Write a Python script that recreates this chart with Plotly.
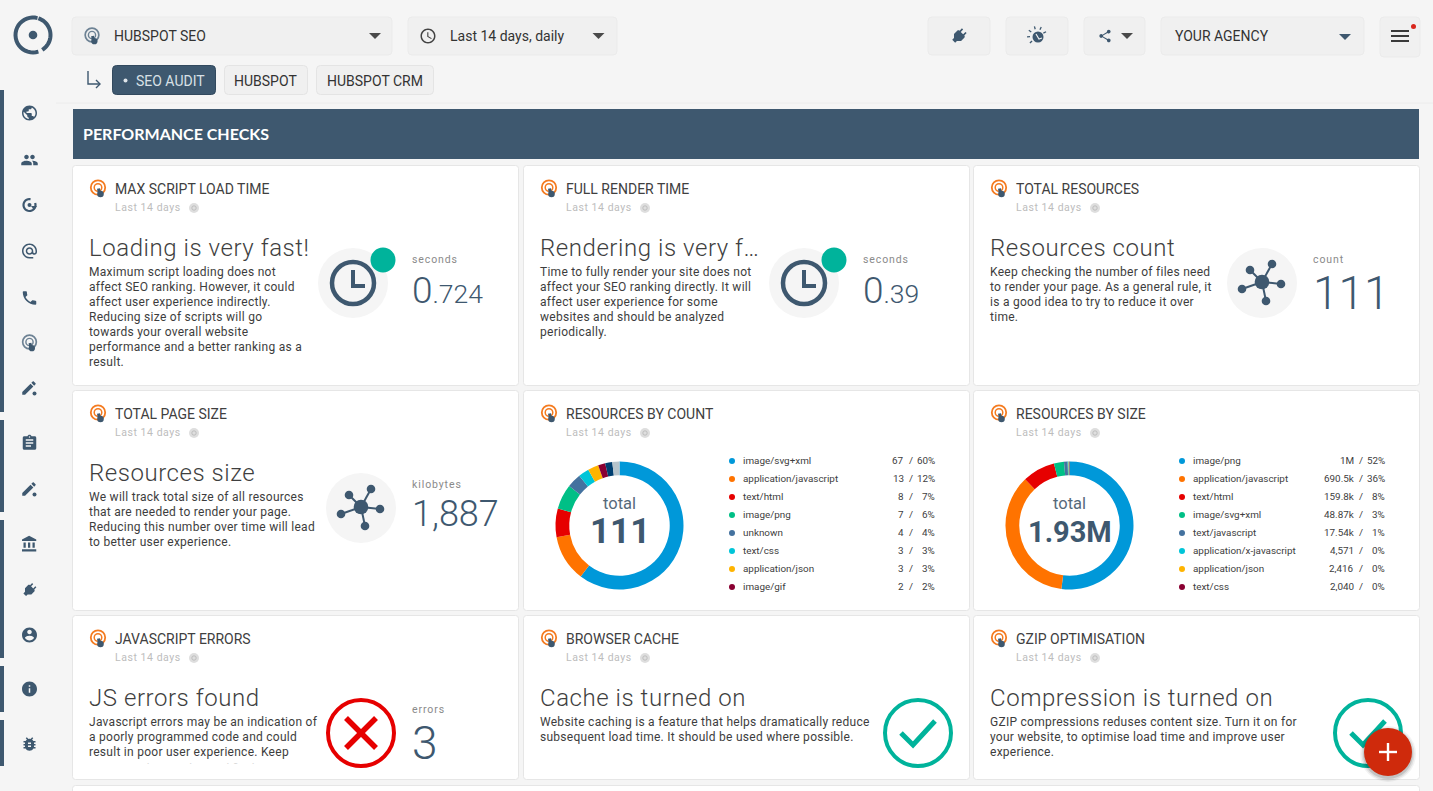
import re
import math
import plotly.graph_objects as go

# donut data
count_labels = ["image/svg+xml", "application/javascript", "text/html", "image/png",
                "unknown", "text/css", "application/json", "image/gif", "other 1", "other 2"]
count_values = [67, 13, 8, 7, 4, 3, 3, 2, 2, 2]
count_shown = ["67", "13", "8", "7", "4", "3", "3", "2"]
count_pct = ["60%", "12%", "7%", "6%", "4%", "3%", "3%", "2%"]

size_labels = ["image/png", "application/javascript", "text/html", "image/svg+xml",
               "text/javascript", "application/x-javascript", "application/json", "text/css"]
size_values = [1004000, 690500, 159800, 48870, 17540, 4571, 2416, 2040]
size_shown = ["1M", "690.5k", "159.8k", "48.87k", "17.54k", "4,571", "2,416", "2,040"]
size_pct = ["52%", "36%", "8%", "3%", "1%", "0%", "0%", "0%"]

slice_colors = ["#0098d9", "#ff7300", "#e60000", "#00bf86", "#44729f",
                "#00c5d8", "#ffb400", "#8a0032", "#003f70", "#b6c4cc"]

# card texts
card_titles = ["MAX SCRIPT LOAD TIME", "FULL RENDER TIME", "TOTAL RESOURCES",
               "TOTAL PAGE SIZE", "RESOURCES BY COUNT", "RESOURCES BY SIZE",
               "JAVASCRIPT ERRORS", "BROWSER CACHE", "GZIP OPTIMISATION"]
card_heads = ["Loading is very fast!", "Rendering is very f…", "Resources count",
              "Resources size", None, None,
              "JS errors found", "Cache is turned on", "Compression is turned on"]
card_body = [
    ["Maximum script loading does not", "affect SEO ranking. However, it could",
     "affect user experience indirectly.", "Reducing size of scripts will go",
     "towards your overall website", "performance and a better ranking as a", "result."],
    ["Time to fully render your site does not", "affect your SEO ranking directly. It will",
     "affect user experience for some", "websites and should be analyzed", "periodically."],
    ["Keep checking the number of files need", "to render your page. As a general rule, it",
     "is a good idea to try to reduce it over", "time."],
    ["We will track total size of all resources", "that are needed to render your page.",
     "Reducing this number over time will lead", "to better user experience."],
    [], [],
    ["Javascript errors may be an indication of", "a poorly programmed code and could",
     "result in poor user experience. Keep"],
    ["Website caching is a feature that helps dramatically reduce", "subsequent load time. It should be used where possible."],
    ["GZIP compressions reduses content size. Turn it on for", "your website, to optimise load time and improve user",
     "experience."],
]
# the card cuts this line off, only the tops of the letters show
cut_line = "an eye on this number and fix them."

NAVY = "#3e586f"
TEAL = "#00b39b"
RED = "#e60000"
INK = "#3f3f3f"

# material icon outlines, 24x24 box
ICONS = {
    "public": "M12 2C6.48 2 2 6.48 2 12s4.48 10 10 10 10-4.48 10-10S17.52 2 12 2zm-1 17.93c-3.95-.49-7-3.85-7-7.93 0-.62.08-1.21.21-1.79L9 15v1c0 1.1.9 2 2 2v1.93zm6.9-2.54c-.26-.81-1-1.39-1.9-1.39h-1v-3c0-.55-.45-1-1-1H8v-2h2c.55 0 1-.45 1-1V7h2c1.1 0 2-.9 2-2v-.41c2.93 1.19 5 4.06 5 7.41 0 2.08-.8 3.97-2.1 5.39z",
    "people": "M16 11c1.66 0 2.99-1.34 2.99-3S17.66 5 16 5c-1.66 0-3 1.34-3 3s1.34 3 3 3zm-8 0c1.66 0 2.99-1.34 2.99-3S9.66 5 8 5C6.34 5 5 6.34 5 8s1.34 3 3 3zm0 2c-2.33 0-7 1.17-7 3.5V19h14v-2.5c0-2.33-4.67-3.5-7-3.5zm8 0c-.29 0-.62.02-.97.05 1.16.84 1.97 1.97 1.97 3.45V19h6v-2.5c0-2.33-4.67-3.5-7-3.5z",
    "phone": "M6.62 10.79c1.44 2.83 3.76 5.14 6.59 6.59l2.2-2.2c.27-.27.67-.36 1.02-.24 1.12.37 2.33.57 3.57.57.55 0 1 .45 1 1V20c0 .55-.45 1-1 1-9.39 0-17-7.61-17-17 0-.55.45-1 1-1h3.5c.55 0 1 .45 1 1 0 1.25.2 2.45.57 3.57.11.35.03.74-.25 1.02l-2.2 2.2z",
    "account": "M12 2C6.48 2 2 6.48 2 12s4.48 10 10 10 10-4.48 10-10S17.52 2 12 2zm0 3c1.66 0 3 1.34 3 3s-1.34 3-3 3-3-1.34-3-3 1.34-3 3-3zm0 14.2c-2.5 0-4.71-1.28-6-3.22.03-1.99 4-3.08 6-3.08 1.99 0 5.97 1.09 6 3.08-1.29 1.94-3.5 3.22-6 3.22z",
    "info": "M12 2C6.48 2 2 6.48 2 12s4.48 10 10 10 10-4.48 10-10S17.52 2 12 2zm1 15h-2v-6h2v6zm0-8h-2V7h2v2z",
    "bug": "M20 8h-2.81c-.45-.78-1.07-1.45-1.82-1.96L17 4.41 15.59 3l-2.17 2.17C12.96 5.06 12.49 5 12 5c-.49 0-.96.06-1.41.17L8.41 3 7 4.41l1.62 1.63C7.88 6.55 7.26 7.22 6.81 8H4v2h2.09c-.05.33-.09.66-.09 1v1H4v2h2v1c0 .34.04.67.09 1H4v2h2.81c1.04 1.79 2.97 3 5.19 3s4.15-1.21 5.19-3H20v-2h-2.09c.05-.33.09-.66.09-1v-1h2v-2h-2v-1c0-.34-.04-.67-.09-1H20V8zm-6 8h-4v-2h4v2zm0-4h-4v-2h4v2z",
    "assignment": "M19 3h-4.18C14.4 1.84 13.3 1 12 1c-1.3 0-2.4.84-2.82 2H5c-1.1 0-2 .9-2 2v14c0 1.1.9 2 2 2h14c1.1 0 2-.9 2-2V5c0-1.1-.9-2-2-2zm-7 0c.55 0 1 .45 1 1s-.45 1-1 1-1-.45-1-1 .45-1 1-1zm2 14H7v-2h7v2zm3-4H7v-2h10v2zm0-4H7V7h10v2z",
    "bank": "M4 10v7h3v-7H4zm6 0v7h3v-7h-3zM2 22h19v-3H2v3zm14-12v7h3v-7h-3zm-4.5-9L2 6v2h19V6l-9.5-5z",
    "at": "M12 2C6.48 2 2 6.48 2 12s4.48 10 10 10h5v-2h-5c-4.34 0-8-3.66-8-8s3.66-8 8-8 8 3.66 8 8v1.43c0 .79-.71 1.57-1.5 1.57s-1.5-.78-1.5-1.57V12c0-2.76-2.24-5-5-5s-5 2.24-5 5 2.24 5 5 5c1.38 0 2.64-.56 3.54-1.47.65.89 1.77 1.47 2.96 1.47 1.97 0 3.5-1.6 3.5-3.57V12c0-5.52-4.48-10-10-10zm0 13c-1.66 0-3-1.34-3-3s1.34-3 3-3 3 1.34 3 3-1.34 3-3 3z",
    "pen": "M3 17.25V21h3.75L17.81 9.94l-3.75-3.75L3 17.25zM20.71 7.04c.39-.39.39-1.02 0-1.41l-2.34-2.34c-.39-.39-1.02-.39-1.41 0l-1.83 1.83 3.75 3.75 1.83-1.83z",
    "clock": "M11.99 2C6.47 2 2 6.48 2 12s4.47 10 9.99 10C17.52 22 22 17.52 22 12S17.52 2 11.99 2zM12 20c-4.42 0-8-3.58-8-8s3.58-8 8-8 8 3.58 8 8-3.58 8-8 8zm.5-13H11v6l5.25 3.15.75-1.23-4.5-2.67z",
    "share": "M18 16.08c-.76 0-1.44.3-1.96.77L8.91 12.7c.05-.23.09-.46.09-.7s-.04-.47-.09-.7l7.05-4.11c.54.5 1.25.81 2.04.81 1.66 0 3-1.34 3-3s-1.34-3-3-3-3 1.34-3 3c0 .24.04.47.09.7L8.04 9.81C7.5 9.31 6.79 9 6 9c-1.66 0-3 1.34-3 3s1.34 3 3 3c.79 0 1.5-.31 2.04-.81l7.12 4.16c-.05.21-.08.43-.08.65 0 1.61 1.31 2.92 2.92 2.92 1.61 0 2.92-1.31 2.92-2.92s-1.31-2.92-2.92-2.92z",
    "plug": "M16,7V3H14V7H10V3H8V7H8C7,7 6,8 6,9V14.5L9.5,18V21H14.5V18L18,14.5V9C18,8 17,7 16,7Z",
}

shapes = []
notes = []


def rect(x0, y0, x1, y1, fill, line="rgba(0,0,0,0)", r=0, layer="below"):
    d = (f"M{x0+r},{y0} L{x1-r},{y0} Q{x1},{y0} {x1},{y0+r} L{x1},{y1-r} Q{x1},{y1} {x1-r},{y1} "
         f"L{x0+r},{y1} Q{x0},{y1} {x0},{y1-r} L{x0},{y0+r} Q{x0},{y0} {x0+r},{y0} Z")
    shapes.append(dict(type="path", path=d, fillcolor=fill, line=dict(color=line, width=1),
                       xref="x", yref="y", layer=layer))


def circle(cx, cy, r, fill="rgba(0,0,0,0)", line="rgba(0,0,0,0)", width=0, layer="below"):
    shapes.append(dict(type="circle", x0=cx-r, x1=cx+r, y0=cy-r, y1=cy+r, fillcolor=fill,
                       line=dict(color=line, width=width), xref="x", yref="y", layer=layer))


def stroke(points, color, width, layer="below"):
    d = "M" + " L".join(f"{x},{y}" for x, y in points)
    shapes.append(dict(type="path", path=d, line=dict(color=color, width=width),
                       xref="x", yref="y", layer=layer))


def arc(cx, cy, r, a0, a1, color, width):
    # angles in degrees, clockwise from 3 o'clock
    n = 24
    pts = []
    for i in range(n + 1):
        a = math.radians(a0 + (a1 - a0) * i / n)
        pts.append((cx + r * math.cos(a), cy + r * math.sin(a)))
    stroke(pts, color, width)


def icon(name, cx, cy, size, color=NAVY, rotate=0):
    # turn a 24x24 svg outline into absolute commands plotly can read
    tokens = re.findall(r"[a-zA-Z]|-?\d*\.?\d+", ICONS[name])
    k = size / 24
    ca, sa = math.cos(math.radians(rotate)), math.sin(math.radians(rotate))

    def pt(x, y):
        x, y = x - 12, y - 12
        return f"{cx + k*(x*ca - y*sa):.2f},{cy + k*(x*sa + y*ca):.2f}"

    out = []
    i = 0
    x = y = sx = sy = 0.0
    cmd = None
    while i < len(tokens):
        if tokens[i].isalpha():
            cmd = tokens[i]
            i += 1
            if cmd in "zZ":
                out.append("Z")
                x, y = sx, sy
                continue
        rel = cmd.islower()
        c = cmd.upper()
        nargs = {"M": 2, "L": 2, "H": 1, "V": 1, "C": 6, "S": 4}[c]
        v = [float(t) for t in tokens[i:i+nargs]]
        i += nargs
        if c == "H":
            x = x + v[0] if rel else v[0]
            out.append("L" + pt(x, y))
        elif c == "V":
            y = y + v[0] if rel else v[0]
            out.append("L" + pt(x, y))
        else:
            ox, oy = (x, y) if rel else (0, 0)
            abs_pts = [(v[j] + ox, v[j+1] + oy) for j in range(0, nargs, 2)]
            out.append(c + " ".join(pt(*p) for p in abs_pts))
            x, y = abs_pts[-1]
            if c == "M":
                sx, sy = x, y
                cmd = "l" if rel else "L"
    shapes.append(dict(type="path", path=" ".join(out), fillcolor=color,
                       line=dict(color="rgba(0,0,0,0)", width=0), xref="x", yref="y", layer="below"))


def text(x, y, s, size, color=INK, anchor="left", family="Roboto", weight=400, spacing=0):
    if spacing:
        s = f'<span style="letter-spacing:{spacing}px">{s}</span>'
    notes.append(dict(x=x, y=y, text=s, xref="x", yref="y", showarrow=False, xanchor=anchor,
                      yanchor="middle", align=anchor, borderpad=0, borderwidth=0,
                      font=dict(family=family, size=size, color=color, weight=weight)))


def caret(cx, cy, color="#4a4a4a", w=6, h=6):
    d = f"M{cx-w},{cy-h/2} L{cx+w},{cy-h/2} L{cx},{cy+h/2} Z"
    shapes.append(dict(type="path", path=d, fillcolor=color, line=dict(color=color, width=0),
                       xref="x", yref="y", layer="below"))


def touch_icon(cx, cy, scale=1.0, rings="#f47b20", finger=NAVY):
    circle(cx, cy, 7.2 * scale, line=rings, width=1.8 * scale)
    circle(cx, cy, 3.8 * scale, line=rings, width=1.5 * scale)
    stroke([(cx + 0.5 * scale, cy + 1 * scale), (cx + 1.5 * scale, cy + 6 * scale)], finger, 3 * scale)
    circle(cx + 2.5 * scale, cy + 6.5 * scale, 3.3 * scale, fill=finger)


def hub(cx, cy):
    spokes = [(-12, -12), (10, -18), (19, 2), (4, 19), (-20, 7)]
    for dx, dy in spokes:
        stroke([(cx, cy), (cx + dx, cy + dy)], NAVY, 2)
        circle(cx + dx, cy + dy, 4.3, fill=NAVY)
    circle(cx, cy, 7.3, fill=NAVY)


def big_clock(cx, cy):
    circle(cx, cy, 35, fill="#f5f5f5")
    circle(cx, cy, 21, line=NAVY, width=4.5)
    stroke([(cx, cy - 13), (cx, cy + 3), (cx + 12, cy + 3)], NAVY, 4)
    circle(cx + 30, cy - 23, 12.5, fill=TEAL)


# page chrome
rect(0, 0, 1433, 791, "#f5f5f5")
stroke([(56, 103), (1433, 103)], "#ececec", 1)
for y0, y1 in [(90, 412), (420, 512), (520, 658), (666, 712), (720, 766)]:
    rect(0, y0, 4, y1, NAVY)

# logo
arc(33, 35, 17.5, -72, 58, NAVY, 4)
arc(33, 35, 17.5, 72, 285, NAVY, 4)
circle(33, 35, 4.3, fill=NAVY)

# toolbar
BOX = "#f0f0f0"
EDGE = "#ebebeb"
for x0, x1 in [(72, 392), (408, 617), (928, 990), (1006, 1068), (1084, 1145), (1161, 1364), (1380, 1420)]:
    rect(x0, 17, x1, 55 if x0 != 1380 else 57, BOX, EDGE, 4)
touch_icon(92, 35, 0.95, rings="#6d8294")
text(114, 36, "HUBSPOT SEO", 14, "#333333")
caret(375, 36)
icon("clock", 428, 36, 18, "#444444")
text(449.5, 36, "Last 14 days, daily", 14, "#333333")
caret(598.5, 36)
icon("plug", 959, 36, 20, NAVY, rotate=45)
circle(1038, 37, 5.5, fill=NAVY)
stroke([(1036, 34), (1039, 39), (1042, 38)], "#f0f0f0", 1.2)
for a in range(135, 340, 40):
    r = math.radians(a)
    stroke([(1037 + 7 * math.cos(r), 36 + 7 * math.sin(r)), (1037 + 10 * math.cos(r), 36 + 10 * math.sin(r))], NAVY, 1.3)
icon("share", 1105, 36, 15, NAVY)
caret(1127, 36)
text(1175, 36, "YOUR AGENCY", 14, "#333333")
caret(1345, 37, NAVY)
for y in [31, 36, 41]:
    stroke([(1391, y), (1409, y)], "#3a3a3a", 2)
circle(1413.5, 26.5, 2.5, fill="#d8261c")

# tabs
stroke([(88, 71), (88, 84), (100, 84)], NAVY, 1.4)
stroke([(96, 80), (100, 84), (96, 88)], NAVY, 1.4)
rect(112.5, 65.5, 215.5, 94.5, NAVY, "#32495e", 4)
circle(125.5, 80.5, 2, fill="#dfe5ea")
text(136, 80.5, "SEO AUDIT", 14, "#d8e0e6")
rect(224.5, 65.5, 307.5, 94.5, BOX, "#e4e4e4", 4)
text(265.5, 80.5, "HUBSPOT", 14, "#333333", "center")
rect(316.5, 65.5, 433.5, 94.5, BOX, "#e4e4e4", 4)
text(375, 80.5, "HUBSPOT CRM", 14, "#333333", "center")

# side menu
side = [("public", 113), ("people", 160), ("refresh_like", 205), ("at", 251), ("phone", 298),
        ("touch", 343), ("pen", 389), ("assignment", 443), ("pen", 490), ("bank", 544),
        ("plug", 590), ("account", 635), ("info", 689), ("bug", 744)]
for name, y in side:
    if name == "touch":
        touch_icon(29.5, y - 1, 0.95, rings="#6d8294")
    elif name == "refresh_like":
        arc(29.5, y, 6, -20, 280, NAVY, 2.2)
        circle(29.5, y, 2, fill=NAVY)
        caret(34, y + 3, NAVY, 3, 4)
    elif name == "plug":
        icon(name, 29.5, y, 18, NAVY, rotate=45)
    elif name == "pen":
        icon(name, 29, y - 1, 18, NAVY)
        circle(34.5, y + 4.5, 2, fill=NAVY)
    else:
        icon(name, 29.5, y, 18, NAVY)

# section header
rect(73, 109, 1419, 159, NAVY)
text(83, 133.2, "PERFORMANCE CHECKS", 16, "#ffffff", family="Lato", weight=700)

# cards
col_x = [(72.5, 518.5), (523.5, 969.5), (973.5, 1419.5)]
row_y = [(165.5, 385.5), (390.5, 610.5), (615.5, 779.5)]
for r, (y0, y1) in enumerate(row_y):
    for c, (x0, x1) in enumerate(col_x):
        i = r * 3 + c
        rect(x0, y0, x1, y1, "#ffffff", "#e6e6e6", 3)
        touch_icon(x0 + 25.5, y0 + 22)
        text(x0 + 42.5, y0 + 23.5, card_titles[i], 14, "#404040")
        text(x0 + 42.5, y0 + 41.8, "Last 14 days", 10.5, "#bdbdbd", spacing=0.55)
        circle(x0 + 121.5, y0 + 42.5, 5, fill="#dedede")
        circle(x0 + 121.5, y0 + 42.5, 2.2, line="#b5b5b5", width=0.8)
        if card_heads[i]:
            text(x0 + 16.5, y0 + 82.5, card_heads[i], 24, INK, weight=300, spacing=0.55)
        for j, line in enumerate(card_body[i]):
            text(x0 + 16.5, y0 + 106.5 + j * 15, line, 12, "#3d3d3d", spacing=0.27)
rect(72.5, 785.5, 1419.5, 800, "#ffffff", "#e6e6e6", 3)

# metric tiles
big_clock(353, 283)
text(412, 259, "seconds", 10.5, "#8a8a8a", spacing=0.9)
text(412, 290, '0<span style="font-size:26.5px">.724</span>', 37, NAVY, weight=300)
big_clock(804, 283)
text(863, 259, "seconds", 10.5, "#8a8a8a", spacing=0.9)
text(863, 290, '0<span style="font-size:26.5px">.39</span>', 37, NAVY, weight=300)
circle(1262, 283, 35, fill="#f5f5f5")
hub(1262, 282)
text(1313, 259, "count", 10.5, "#8a8a8a", spacing=0.9)
text(1313, 293, "111", 46, NAVY, weight=300)
circle(361, 508, 35, fill="#f5f5f5")
hub(361, 507)
text(412, 484, "kilobytes", 10.5, "#8a8a8a", spacing=0.9)
text(412, 514, "1,887", 36, NAVY, weight=300)

# status tiles
circle(361, 733, 33, line=RED, width=4)
stroke([(346, 718), (376, 748)], RED, 5.5)
stroke([(376, 718), (346, 748)], RED, 5.5)
text(412, 709, "errors", 10.5, "#8a8a8a", spacing=0.9)
text(412, 743, "3", 46, NAVY, weight=300)
for cx in [918, 1368]:
    circle(cx, 733, 33, line=TEAL, width=4)
    stroke([(cx - 17, 733), (cx - 5, 745), (cx + 17, 721)], TEAL, 5)

# add button
for grow, alpha in [(4, 0.05), (2.5, 0.08), (1, 0.12)]:
    circle(1388, 754, 24 + grow, fill=f"rgba(0,0,0,{alpha})")
circle(1388, 752, 24, fill="#cf2a0c")
stroke([(1388, 743), (1388, 761)], "#ffffff", 2.4)
stroke([(1379, 752), (1397, 752)], "#ffffff", 2.4)

fig = go.Figure()

# clipped body line: a text trace with a white strip laid over its lower part
fig.add_trace(go.Scatter(
    x=[89], y=[770], mode="text", text=[cut_line], textposition="middle right",
    textfont=dict(family="Roboto", size=12, color="#b5b5b5"), hoverinfo="skip", showlegend=False,
))
rect(80, 763.5, 330, 778, "#ffffff", layer="above")


def donut(cx, cy, values, labels, shown, pct, total, total_size, bullet_x):
    r = 64
    fig.add_trace(go.Pie(
        values=values, labels=labels, sort=False, direction="clockwise", rotation=0,
        hole=0.785, textinfo="none", hoverinfo="skip", showlegend=False,
        marker=dict(colors=slice_colors, line=dict(width=0)),
        domain=dict(x=[(cx - r) / 1433, (cx + r) / 1433], y=[1 - (cy + r) / 791, 1 - (cy - r) / 791]),
    ))
    text(cx, cy - 22.5, "total", 16.5, "#56697a", "center")
    text(cx, cy + 6, total, total_size, NAVY, "center", weight=700)
    for i in range(8):
        y = 460.6 + i * 18
        circle(bullet_x, y + 0.4, 3, fill=slice_colors[i])
        text(bullet_x + 11, y, labels[i], 9.9, "#404040")
        text(bullet_x + 172, y, shown[i], 9.9, "#404040", "right")
        text(bullet_x + 179, y, "/", 9.9, "#404040", "center")
        text(bullet_x + 203, y, pct[i], 9.9, "#404040", "right")


donut(619.5, 525.5, count_values, count_labels, count_shown, count_pct, "111", 35, 732)
donut(1069.5, 525.5, size_values, size_labels, size_shown, size_pct, "1.93M", 29, 1182)

fig.update_layout(
    width=1433, height=791,
    margin=dict(l=0, r=0, t=0, b=0),
    paper_bgcolor="#f5f5f5", plot_bgcolor="#f5f5f5",
    xaxis=dict(range=[0, 1433], visible=False, fixedrange=True),
    yaxis=dict(range=[791, 0], visible=False, fixedrange=True),
    shapes=shapes, annotations=notes,
    font=dict(family="Roboto"),
)
fig.write_html("out.html", config=dict(displayModeBar=False),
               post_script="document.body.style.margin='0';document.body.style.overflow='hidden';")
